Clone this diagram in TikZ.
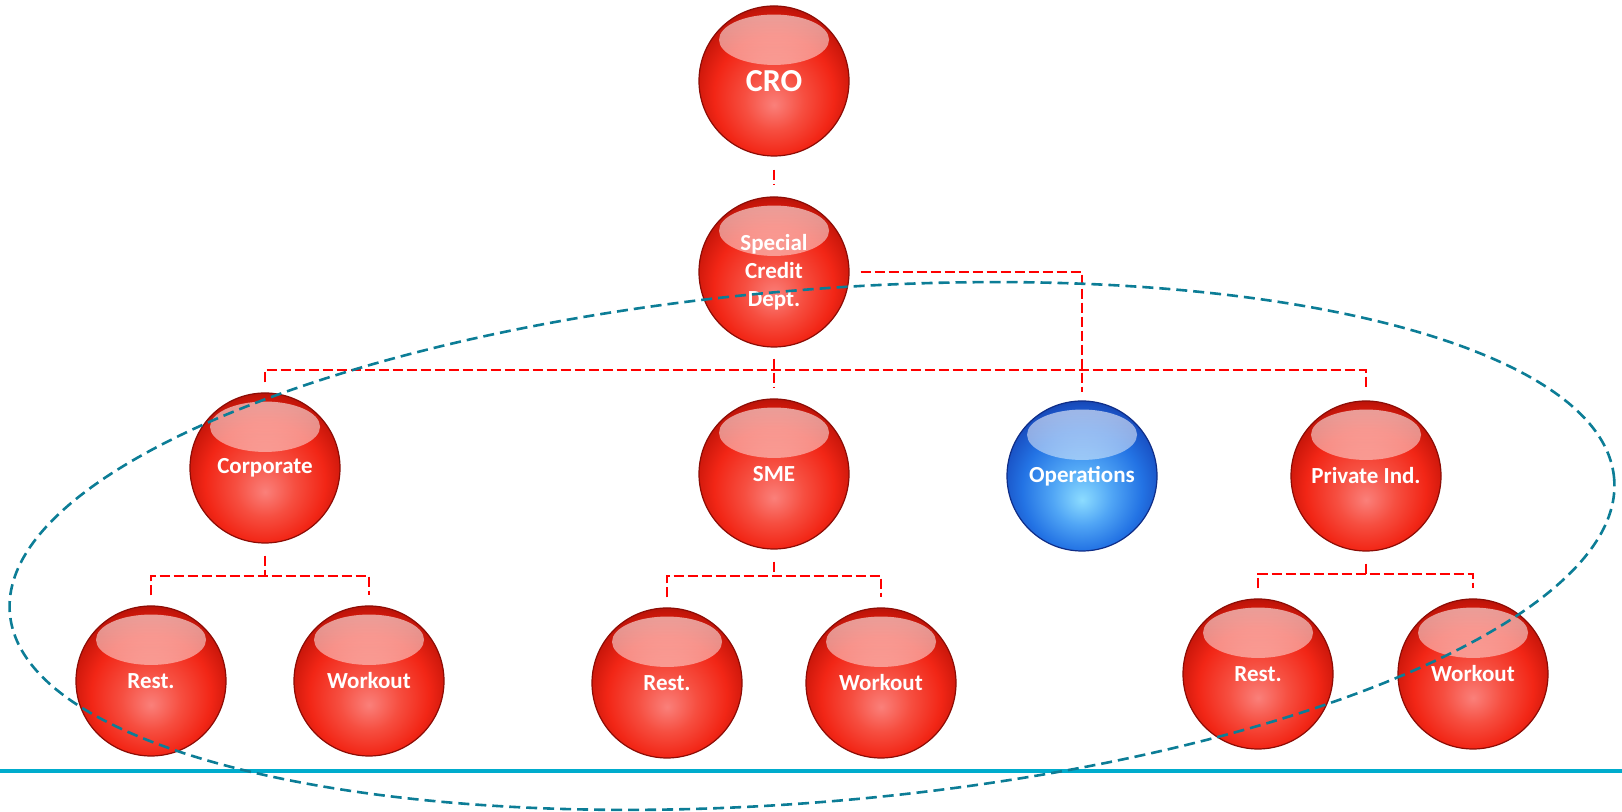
\documentclass[tikz,border=0pt]{standalone}
\usepackage{fontspec}
\setmainfont{Carlito}
\usetikzlibrary{fadings}

\definecolor{redrim}{RGB}{140,12,5}
\definecolor{reddeep}{RGB}{200,22,10}
\definecolor{redbody}{RGB}{242,38,22}
\definecolor{redmid}{RGB}{246,78,64}
\definecolor{redlight}{RGB}{250,128,122}
\definecolor{bluerim}{RGB}{15,45,135}
\definecolor{bluedeep}{RGB}{25,80,195}
\definecolor{bluebody}{RGB}{35,115,228}
\definecolor{bluemid}{RGB}{80,165,245}
\definecolor{bluelight}{RGB}{140,220,255}
\definecolor{linkred}{RGB}{255,0,0}
\definecolor{ringteal}{RGB}{12,125,150}
\definecolor{basecyan}{RGB}{0,172,205}

\pgfdeclareradialshading{redshade}{\pgfpoint{0bp}{-8bp}}{color(0bp)=(redlight); color(10bp)=(redmid); color(20bp)=(redbody); color(27bp)=(reddeep); color(33bp)=(redrim); color(50bp)=(redrim)}
\pgfdeclareradialshading{blueshade}{\pgfpoint{0bp}{-8bp}}{color(0bp)=(bluelight); color(10bp)=(bluemid); color(20bp)=(bluebody); color(27bp)=(bluedeep); color(33bp)=(bluerim); color(50bp)=(bluerim)}
\tikzfading[name=glossfade, top color=transparent!40, bottom color=transparent!78]

\begin{document}
\begin{tikzpicture}[x=0.5pt,y=0.5pt,
  ball/.style={circle, minimum size=75pt, inner sep=0pt, align=center, text=white,
    font=\bfseries\fontsize{11.5}{14}\selectfont, draw=redrim, line width=0.6pt, shading=redshade,
    path picture={\fill[white, path fading=glossfade] ([yshift=20.6pt]path picture bounding box.center) ellipse [x radius=27.5pt, y radius=12.6pt];}},
  blueball/.style={ball, draw=bluerim, shading=blueshade},
  link/.style={draw=linkred, line width=1.1pt, dash pattern=on 5pt off 2pt},
  ring/.style={draw=ringteal, line width=1.3pt, dash pattern=on 5.5pt off 3pt}]

\useasboundingbox (0,0) rectangle (1622,812);

% top of the tree
\node[ball, font=\bfseries\fontsize{16}{18}\selectfont] (cro) at (774,731) {CRO};
\node[ball] (scd) at (774,540) {Special\\Credit\\Dept.};

% departments
\node[ball] (corp) at (265,344) {Corporate};
\node[ball] (sme) at (774,338) {SME};
\node[blueball] (ops) at (1082,336) {Operations};
\node[ball] (priv) at (1366,336) {Private Ind.};

% units
\node[ball] (corprest) at (151,131) {Rest.};
\node[ball] (corpwork) at (369,131) {Workout};
\node[ball] (smerest) at (667,129) {Rest.};
\node[ball] (smework) at (881,129) {Workout};
\node[ball] (privrest) at (1258,138) {Rest.};
\node[ball] (privwork) at (1473,138) {Workout};

\coordinate (busA) at (774,442);
\coordinate (busC) at (265,236);
\coordinate (busS) at (774,236);
\coordinate (busP) at (1366,238);

\draw[link, shorten <=6.5pt, shorten >=6pt] (cro) -- (scd);
\draw[link, shorten <=5.5pt, shorten >=5pt] (scd) -- (sme);
\draw[link, shorten <=5pt, shorten >=5pt] (corp.north) |- (busA) -| (priv.north);
\draw[link, shorten <=5.5pt, shorten >=4pt] (scd.east) -| (ops.north);

\draw[link, shorten <=6pt] (corp.south) -- (busC);
\draw[link, shorten <=5pt, shorten >=5pt] (corprest.north) |- (busC) -| (corpwork.north);
\draw[link, shorten <=6pt] (sme.south) -- (busS);
\draw[link, shorten <=5pt, shorten >=5pt] (smerest.north) |- (busS) -| (smework.north);
\draw[link, shorten <=6pt] (priv.south) -- (busP);
\draw[link, shorten <=5pt, shorten >=5pt] (privrest.north) |- (busP) -| (privwork.north);

% base line and the dashed ring
\draw[basecyan, line width=1.75pt] (0,41) -- (1622,41);
\draw[ring, rotate around={4.8:(812,266)}] (812,266) ellipse [x radius=402.5pt, y radius=128pt];

\end{tikzpicture}
\end{document}
